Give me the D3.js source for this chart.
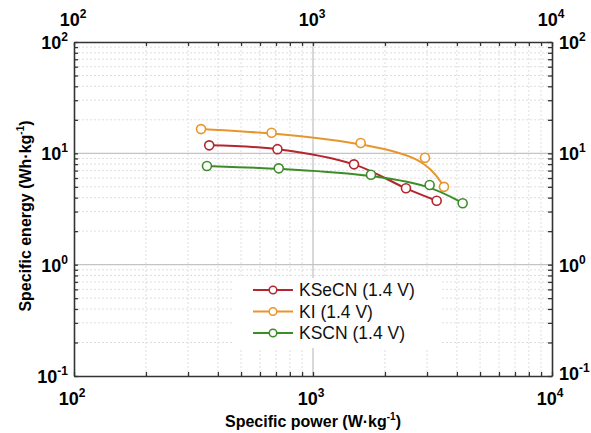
<!DOCTYPE html>
<html><head><meta charset="utf-8">
<script src="https://cdn.jsdelivr.net/npm/d3@7"></script>
<style>
body{margin:0;background:#fff;}
text{font-family:"Liberation Sans",Arial,sans-serif;}
</style></head>
<body><svg id="c" width="591" height="433"></svg>
<script>
const seriesNames = ["KSeCN (1.4 V)", "KI (1.4 V)", "KSCN (1.4 V)"];
const seriesColors = ["#b3262e", "#e8952b", "#3c8d27"];
const ksecnPower = [368, 710, 1484, 2449, 3292];
const ksecnEnergy = [11.8, 10.9, 7.96, 4.85, 3.75];
const kiPower = [340, 671, 1583, 2942, 3532];
const kiEnergy = [16.5, 15.3, 12.4, 9.13, 5.0];
const kscnPower = [360, 719, 1748, 3076, 4229];
const kscnEnergy = [7.69, 7.33, 6.42, 5.19, 3.56];
const xTickExps = [2, 3, 4];
const yTickExps = [-1, 0, 1, 2];

const svg = d3.select("#c");
const L = 74, R = 552, T = 42, B = 376;
const x = d3.scaleLog().domain([1e2, 1e4]).range([L, R]);
const y = d3.scaleLog().domain([1e-1, 1e2]).range([B, T]);

const xMinor = [], yMinor = [];
for (let d = 2; d < 4; d++) for (let m = 2; m <= 9; m++) xMinor.push(m * Math.pow(10, d));
for (let d = -1; d < 2; d++) for (let m = 2; m <= 9; m++) yMinor.push(m * Math.pow(10, d));

const g = svg.append("g");
g.selectAll(".xm").data(xMinor).join("line")
  .attr("x1", d => x(d)).attr("x2", d => x(d)).attr("y1", T).attr("y2", B)
  .attr("stroke", "#dedede").attr("stroke-width", 1).attr("stroke-dasharray", "2,2");
g.selectAll(".ym").data(yMinor).join("line")
  .attr("x1", L).attr("x2", R).attr("y1", d => y(d)).attr("y2", d => y(d))
  .attr("stroke", "#dedede").attr("stroke-width", 1).attr("stroke-dasharray", "2,2");
g.selectAll(".xM").data([1e3]).join("line")
  .attr("x1", d => x(d)).attr("x2", d => x(d)).attr("y1", T).attr("y2", B)
  .attr("stroke", "#c4c4c4").attr("stroke-width", 1.3);
g.selectAll(".yM").data([1, 10]).join("line")
  .attr("x1", L).attr("x2", R).attr("y1", d => y(d)).attr("y2", d => y(d))
  .attr("stroke", "#c4c4c4").attr("stroke-width", 1.3);

const tickLen = 4;
const axCol = "#333";
function ax(gen, tr) {
  const a = svg.append("g").attr("transform", tr).call(gen);
  a.selectAll("text").remove();
  a.select(".domain").attr("stroke", axCol).attr("stroke-width", 1.6);
  a.selectAll(".tick line").attr("stroke", axCol).attr("stroke-width", 1.3);
  return a;
}
const xAll = xMinor.concat([1e2, 1e3, 1e4]);
const yAll = yMinor.concat([1e-1, 1, 10, 100]);
ax(d3.axisBottom(x).tickValues(xAll).tickSizeInner(-tickLen).tickSizeOuter(0), `translate(0,${B})`);
ax(d3.axisTop(x).tickValues(xAll).tickSizeInner(-tickLen).tickSizeOuter(0), `translate(0,${T})`);
ax(d3.axisLeft(y).tickValues(yAll).tickSizeInner(-tickLen).tickSizeOuter(0), `translate(${L},0)`);
ax(d3.axisRight(y).tickValues(yAll).tickSizeInner(-tickLen).tickSizeOuter(0), `translate(${R},0)`);

function powLabel(sel, e) {
  sel.append("tspan").text("10");
  sel.append("tspan").attr("dy", -8).attr("font-size", 12).text(String(e));
}
const fs = 18;
xTickExps.forEach(e => {
  const t1 = svg.append("text").attr("x", x(Math.pow(10, e)) - 1).attr("y", 26)
    .attr("text-anchor", "middle").attr("font-weight", "bold").attr("font-size", fs);
  powLabel(t1, e);
  const t2 = svg.append("text").attr("x", x(Math.pow(10, e)) - 2).attr("y", 405)
    .attr("text-anchor", "middle").attr("font-weight", "bold").attr("font-size", fs);
  powLabel(t2, e);
});
yTickExps.forEach(e => {
  const t1 = svg.append("text").attr("x", 68).attr("y", y(Math.pow(10, e)) + 7)
    .attr("text-anchor", "end").attr("font-weight", "bold").attr("font-size", fs);
  powLabel(t1, e);
  const t2 = svg.append("text").attr("x", 559).attr("y", y(Math.pow(10, e)) + (e === -1 ? 4 : 7))
    .attr("text-anchor", "start").attr("font-weight", "bold").attr("font-size", fs);
  powLabel(t2, e);
});

const xt = svg.append("text").attr("x", 313).attr("y", 427).attr("text-anchor", "middle")
  .attr("font-weight", "bold").attr("font-size", 16);
xt.append("tspan").text("Specific power (W·kg");
xt.append("tspan").attr("dy", -7).attr("font-size", 10).text("-1");
xt.append("tspan").attr("dy", 7).text(")");
const yt = svg.append("text").attr("transform", "translate(31,216) rotate(-90)").attr("text-anchor", "middle")
  .attr("font-weight", "bold").attr("font-size", 16);
yt.append("tspan").text("Specific energy (Wh·kg");
yt.append("tspan").attr("dy", -7).attr("font-size", 10).text("-1");
yt.append("tspan").attr("dy", 7).text(")");

const series = [
  {p: ksecnPower, e: ksecnEnergy, c: d3.curveCatmullRom.alpha(0.5)},
  {p: kiPower, e: kiEnergy, c: d3.curveBasis},
  {p: kscnPower, e: kscnEnergy, c: d3.curveBasis}
];
series.forEach((s, i) => {
  const pts = s.p.map((p, j) => [p, s.e[j]]);
  const line = d3.line().x(d => x(d[0])).y(d => y(d[1])).curve(s.c);
  svg.append("path").attr("d", line(pts)).attr("fill", "none")
    .attr("stroke", seriesColors[i]).attr("stroke-width", 2);
  svg.selectAll(".pt" + i).data(pts).join("circle")
    .attr("cx", d => x(d[0])).attr("cy", d => y(d[1])).attr("r", 4.5)
    .attr("fill", "#fff").attr("stroke", seriesColors[i]).attr("stroke-width", 1.6);
});

svg.append("rect").attr("x", 232).attr("y", 278).attr("width", 208).attr("height", 70).attr("fill", "#fff");
seriesNames.forEach((n, i) => {
  const yy = 290 + i * 21.5;
  svg.append("line").attr("x1", 253).attr("x2", 293).attr("y1", yy).attr("y2", yy)
    .attr("stroke", seriesColors[i]).attr("stroke-width", 2);
  svg.append("circle").attr("cx", 273).attr("cy", yy).attr("r", 3.8)
    .attr("fill", "#fff").attr("stroke", seriesColors[i]).attr("stroke-width", 1.5);
  svg.append("text").attr("x", 299).attr("y", yy + 6).attr("font-size", 17.5).attr("fill", "#111").text(n);
});
</script></body></html>
